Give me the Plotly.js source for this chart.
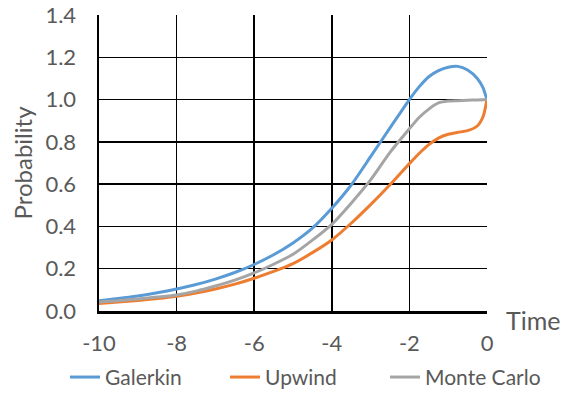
<!DOCTYPE html>
<html>
<head>
<meta charset="utf-8">
<script src="https://cdn.plot.ly/plotly-3.0.1.min.js"></script>
<style>
  html, body { margin: 0; padding: 0; background: #fff; }
  #chart { width: 567px; height: 394px; }
</style>
</head>
<body>
<div id="chart"></div>
<script>
const seriesNames = ["Galerkin", "Upwind", "Monte Carlo"];
const time = [-10, -9.5, -9, -8.5, -8, -7.5, -7, -6.5, -6, -5.5, -5, -4.5, -4, -3.5, -3, -2.5, -2, -1.75, -1.5, -1.25, -1, -0.75, -0.5, -0.25, -0.1, -0.05, 0];
const galerkin = [0.049, 0.059, 0.071, 0.086, 0.104, 0.125, 0.151, 0.182, 0.220, 0.266, 0.322, 0.392, 0.486, 0.596, 0.730, 0.866, 1.000, 1.060, 1.108, 1.137, 1.153, 1.157, 1.140, 1.100, 1.055, 1.028, 1.000];
const upwind = [0.035, 0.042, 0.050, 0.059, 0.070, 0.085, 0.104, 0.127, 0.155, 0.187, 0.224, 0.276, 0.336, 0.415, 0.503, 0.597, 0.697, 0.745, 0.787, 0.818, 0.836, 0.845, 0.853, 0.875, 0.920, 0.955, 1.000];
const monteCarlo = [0.043, 0.049, 0.057, 0.066, 0.076, 0.094, 0.118, 0.146, 0.180, 0.221, 0.268, 0.335, 0.410, 0.510, 0.620, 0.750, 0.862, 0.915, 0.955, 0.984, 0.993, 0.995, 0.997, 0.998, 0.999, 1.000, 1.000];
const xTicks = [-10, -8, -6, -4, -2, 0];
const yTicks = [0, 0.2, 0.4, 0.6, 0.8, 1.0, 1.2, 1.4];
const colors = ["#5B9BD5", "#ED7D31", "#A5A5A5"];
const values = [galerkin, upwind, monteCarlo];

const font = "Lato, 'Open Sans', sans-serif";
const traces = seriesNames.map((name, i) => ({
  type: "scatter",
  mode: "lines",
  name: name,
  x: time,
  y: values[i],
  line: { color: colors[i], width: 3, shape: "spline", smoothing: 0.7 },
  hoverinfo: "x+y+name"
}));

const layout = {
  width: 567,
  height: 394,
  margin: { l: 99, r: 80, t: 15, b: 82.5, pad: 0, autoexpand: false },
  paper_bgcolor: "#ffffff",
  plot_bgcolor: "#ffffff",
  font: { family: font, color: "#595959", size: 22 },
  showlegend: true,
  legend: {
    orientation: "h",
    xref: "paper", yref: "paper",
    x: -0.0876, xanchor: "left",
    y: -0.2243, yanchor: "middle",
    font: { family: font, size: 21, color: "#595959" },
    itemwidth: 30,
    entrywidth: 115,
    entrywidthmode: "pixels",
    tracegroupgap: 0
  },
  xaxis: {
    range: [-10, 0],
    tickvals: xTicks,
    ticktext: xTicks.map(String),
    showgrid: true, gridcolor: "#000000", gridwidth: 1.5,
    showline: true, linecolor: "#000000", linewidth: 2.5,
    zeroline: false,
    ticks: "", ticklabelstandoff: 11,
    tickfont: { family: font, size: 22, color: "#595959" },
    fixedrange: true
  },
  yaxis: {
    range: [0, 1.4],
    tickvals: yTicks,
    ticktext: yTicks.map(v => v.toFixed(1)),
    showgrid: true, gridcolor: "#000000", gridwidth: 1.5,
    showline: true, linecolor: "#000000", linewidth: 2.5,
    zeroline: false,
    ticks: "", ticklabelstandoff: 16,
    tickfont: { family: font, size: 22, color: "#595959" },
    title: { text: "Probability", standoff: 6, font: { family: font, size: 24, color: "#595959" } },
    fixedrange: true
  },
  annotations: [{
    text: "Time",
    xref: "paper", yref: "paper",
    x: 1.1186, y: -0.029,
    xanchor: "center", yanchor: "middle",
    showarrow: false,
    font: { family: font, size: 25, color: "#595959" }
  }]
};

Plotly.newPlot("chart", traces, layout, { displayModeBar: false, staticPlot: true });
</script>
</body>
</html>
